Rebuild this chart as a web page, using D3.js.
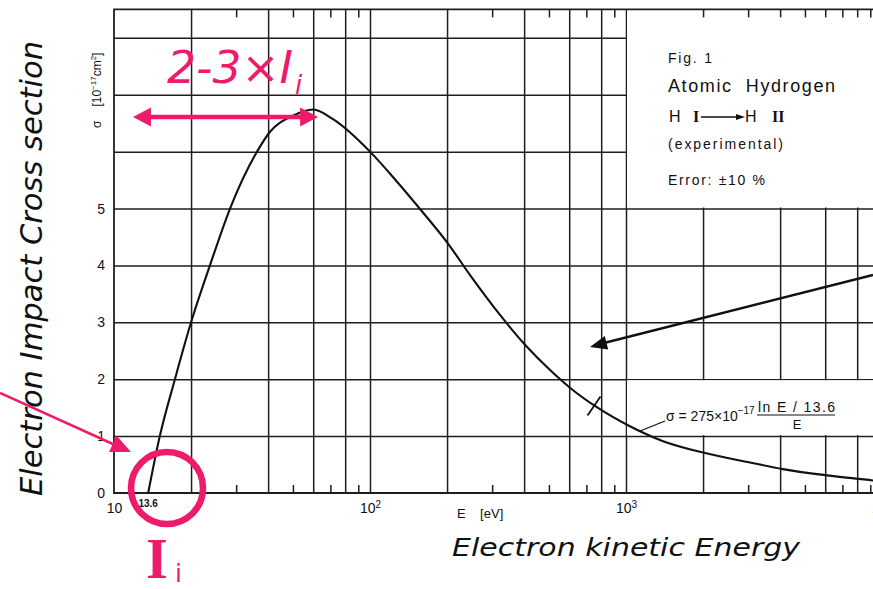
<!DOCTYPE html>
<html>
<head>
<meta charset="utf-8">
<script src="https://cdn.jsdelivr.net/npm/d3@7"></script>
<style>
  body { margin: 0; background: #fff; }
  svg text { font-family: "Liberation Sans", Arial, sans-serif; fill: #111; }
  .grid line { stroke: #1e1e1e; stroke-width: 1.5; }
  .grid path, .labels path { display: none; }
  .labels text { font-size: 14px; }
  .hand { font-family: "DejaVu Sans", sans-serif; font-style: italic; }
</style>
</head>
<body>
<div id="chart"></div>
<script>
// electron energy (eV) and ionisation cross section (10^-17 cm^2)
const energies = [13.6, 15.1, 17.3, 20, 23.7, 28.4, 36.2, 40.7, 50, 60, 71.7, 100, 127, 161, 202, 246, 322, 410, 505, 604, 780, 1018, 1396, 2000, 3050, 4100, 6100, 9200, 10000];
const sigmas = [0, 1, 2, 3, 4, 5, 6, 6.35, 6.63, 6.74, 6.57, 6.0, 5.48, 4.93, 4.38, 3.83, 3.13, 2.57, 2.16, 1.85, 1.49, 1.19, 0.91, 0.71, 0.536, 0.42, 0.31, 0.22, 0.2];

const gridEnergies = [20, 40, 60, 80, 100, 200, 400, 600, 800, 1000, 2000, 4000, 6000, 8000];
const minorEnergies = [30, 50, 70, 90, 300, 500, 700, 900, 3000, 5000, 7000, 9000];
const boxTopEnergies = [2000, 3000, 4000, 5000, 6000, 7000, 8000, 9000];
const decadeTicks = [10, 100, 1000, 10000];
const decadeExponents = ["", "2", "3", "4"];
const sigmaLabels = [0, 1, 2, 3, 4, 5];
const sigmaGrid = [1, 2, 3, 4, 5, 6, 7, 8];
const legendLines = ["Fig. 1", "Atomic  Hydrogen", "(experimental)", "Error: \u00b110 %"];

const pink = "#ee1b6c";

const svg = d3.select("#chart").append("svg")
  .attr("width", 873).attr("height", 589);

const x = d3.scaleLog().domain([10, 10000]).range([114, 882]);
const y = d3.scaleLinear().domain([0, 8.5]).range([493, 9.4]);
const pLeft = x(10), pRight = x(10000), pTop = y(8.5), pBottom = y(0);

// grid lines
svg.append("g").attr("class", "grid")
  .attr("transform", `translate(0,${pBottom})`)
  .call(d3.axisBottom(x).tickValues(gridEnergies).tickSize(-(pBottom - pTop)).tickFormat(""));
svg.append("g").attr("class", "grid")
  .attr("transform", `translate(${pLeft},0)`)
  .call(d3.axisLeft(y).tickValues(sigmaGrid).tickSize(-(pRight - pLeft)).tickFormat(""));

// short ticks at bottom and top
svg.append("g").attr("class", "grid")
  .attr("transform", `translate(0,${pBottom})`)
  .call(d3.axisBottom(x).tickValues(minorEnergies).tickSize(-8).tickFormat(""));
svg.append("g").attr("class", "grid")
  .attr("transform", `translate(0,${pTop})`)
  .call(d3.axisTop(x).tickValues(minorEnergies).tickSize(-8).tickFormat(""));

// blank boxes for legend and formula
svg.append("rect")
  .attr("x", x(1000) + 1).attr("y", pTop + 1)
  .attr("width", pRight - x(1000)).attr("height", y(5) - pTop - 2)
  .attr("fill", "#fff");
svg.append("rect")
  .attr("x", x(1000) + 1).attr("y", y(2) + 1)
  .attr("width", pRight - x(1000)).attr("height", y(1) - y(2) - 2)
  .attr("fill", "#fff");
svg.append("g").attr("class", "grid")
  .attr("transform", `translate(0,${pTop})`)
  .call(d3.axisTop(x).tickValues(boxTopEnergies).tickSize(-8).tickFormat(""));

// frame
svg.append("path")
  .attr("d", `M${pRight},${pTop}H${pLeft}V${pBottom}H${pRight}`)
  .attr("fill", "none").attr("stroke", "#1e1e1e").attr("stroke-width", 1.8);

// y labels
svg.append("g").attr("class", "labels")
  .attr("transform", `translate(${pLeft},0)`)
  .call(d3.axisLeft(y).tickValues(sigmaLabels).tickSize(0).tickPadding(9).tickFormat(d3.format("d")));

// x labels with exponents
const xl = svg.append("g").attr("class", "labels")
  .attr("transform", `translate(0,${pBottom})`)
  .call(d3.axisBottom(x).tickValues(decadeTicks).tickSize(0).tickPadding(10).tickFormat(() => "10"));
xl.selectAll("text").each(function (d, i) {
  if (decadeExponents[i]) {
    d3.select(this).append("tspan").attr("dy", "-0.45em").style("font-size", "10px").text(decadeExponents[i]);
  }
});

svg.append("text")
  .attr("x", x(13.6)).attr("y", pBottom + 14)
  .attr("text-anchor", "middle")
  .style("font-size", "10px").style("font-weight", "bold")
  .text("13.6");

svg.append("text")
  .attr("x", 457).attr("y", 518)
  .style("font-size", "13px")
  .style("white-space", "pre")
  .text("E    [eV]");

// sigma axis title
const st = svg.append("text")
  .attr("transform", `translate(101,128) rotate(-90)`)
  .style("font-size", "12px");
st.append("tspan").text("\u03c3");
st.append("tspan").attr("dx", 14).text("[10");
st.append("tspan").attr("dy", -5).style("font-size", "8px").text("\u221217");
st.append("tspan").attr("dy", 5).text("cm");
st.append("tspan").attr("dy", -5).style("font-size", "8px").text("2");
st.append("tspan").attr("dy", 5).text("]");

// curve
const line = d3.line()
  .x((d, i) => x(energies[i]))
  .y(d => y(d))
  .curve(d3.curveMonotoneX);
svg.append("path")
  .datum(sigmas)
  .attr("d", line)
  .attr("fill", "none").attr("stroke", "#111").attr("stroke-width", 2.1);

// fit marker crossing the curve
const mx = x(750), my = y(1.53);
svg.append("line")
  .attr("x1", mx - 6.5).attr("y1", my + 9.5).attr("x2", mx + 6.5).attr("y2", my - 9.5)
  .attr("stroke", "#111").attr("stroke-width", 1.8);

// legend block
const lg = svg.append("g").attr("transform", "translate(668,0)");
lg.append("text").attr("y", 63).style("font-size", "14px").attr("textLength", 44).text(legendLines[0]);
lg.append("text").attr("y", 92).style("font-size", "18px").style("white-space", "pre").attr("textLength", 167).text(legendLines[1]);
lg.append("text").attr("y", 149).style("font-size", "14px").attr("textLength", 115).text(legendLines[2]);
lg.append("text").attr("y", 185).style("font-size", "14px").style("white-space", "pre").attr("textLength", 97).text(legendLines[3]);
lg.append("text").attr("x", 1).attr("y", 122).style("font-size", "16px").text("H");
lg.append("text").attr("x", 25).attr("y", 122).style("font-size", "16px")
  .style("font-family", "Liberation Serif").style("font-weight", "bold").text("I");
lg.append("line").attr("x1", 33).attr("y1", 117).attr("x2", 70).attr("y2", 117)
  .attr("stroke", "#111").attr("stroke-width", 1.3);
lg.append("path").attr("d", "M77,117L68,114L68,120Z").attr("fill", "#111");
lg.append("text").attr("x", 77).attr("y", 122).style("font-size", "16px").text("H");
lg.append("text").attr("x", 104).attr("y", 122).style("font-size", "16px")
  .style("font-family", "Liberation Serif").style("font-weight", "bold").text("II");

// formula
const fx = x(1135), fy = y(1.09);
svg.append("line").attr("x1", fx).attr("y1", fy).attr("x2", 665).attr("y2", 421)
  .attr("stroke", "#111").attr("stroke-width", 1.3);
const ft = svg.append("text").attr("x", 666).attr("y", 421).style("font-size", "14px");
ft.append("tspan").text("\u03c3 = 275\u00d710");
ft.append("tspan").attr("dy", -7).style("font-size", "10px").text("\u221217");
svg.append("text").attr("x", 758).attr("y", 412).style("font-size", "14px").attr("textLength", 77).text("ln E / 13.6");
svg.append("line").attr("x1", 757).attr("y1", 415).attr("x2", 835).attr("y2", 415)
  .attr("stroke", "#111").attr("stroke-width", 1.2);
svg.append("text").attr("x", 797).attr("y", 429).attr("text-anchor", "middle").style("font-size", "13px").text("E");

// black arrow from the right
svg.append("line").attr("x1", 873).attr("y1", 275).attr("x2", 604).attr("y2", 343)
  .attr("stroke", "#111").attr("stroke-width", 2.4);
svg.append("path").attr("d", arrowHead(873, 275, 590, 347, 17, 7)).attr("fill", "#111");

// pink annotations
const py = y(6.61);
svg.append("line").attr("x1", x(11.86) + 15).attr("y1", py).attr("x2", x(62.7) - 15).attr("y2", py)
  .attr("stroke", pink).attr("stroke-width", 4.5);
svg.append("path").attr("d", arrowHead(x(62.7), py, x(11.86), py, 18, 9.5)).attr("fill", pink);
svg.append("path").attr("d", arrowHead(x(11.86), py, x(62.7), py, 18, 9.5)).attr("fill", pink);

svg.append("text").attr("class", "hand")
  .attr("x", 167).attr("y", 83).style("fill", pink)
  .style("font-size", "44px").attr("textLength", 126).attr("lengthAdjust", "spacingAndGlyphs")
  .text("2-3\u00d7I");
svg.append("text").attr("class", "hand")
  .attr("x", 295).attr("y", 94).style("fill", pink).style("font-size", "26px").text("i");

svg.append("circle").attr("cx", 167).attr("cy", 488).attr("r", 36)
  .attr("fill", "none").attr("stroke", pink).attr("stroke-width", 6.5);

svg.append("text").attr("x", 146).attr("y", 578).style("fill", pink)
  .style("font-family", "Liberation Serif").style("font-weight", "bold").style("font-size", "56px").text("I");
svg.append("text").attr("x", 175).attr("y", 582).style("fill", pink)
  .style("font-family", "DejaVu Sans").style("font-size", "25px").text("i");

svg.append("line").attr("x1", 0).attr("y1", 393).attr("x2", 115).attr("y2", 445)
  .attr("stroke", pink).attr("stroke-width", 2.5);
svg.append("path").attr("d", arrowHead(0, 393, 131, 452, 20, 9)).attr("fill", pink);

// hand-written axis titles
svg.append("text").attr("class", "hand")
  .attr("transform", "translate(42,496) rotate(-90)")
  .style("font-size", "31px").attr("textLength", 455).attr("lengthAdjust", "spacingAndGlyphs")
  .text("Electron Impact Cross section");
svg.append("text").attr("class", "hand")
  .attr("x", 452).attr("y", 556)
  .style("font-size", "25px").attr("textLength", 348).attr("lengthAdjust", "spacingAndGlyphs")
  .text("Electron kinetic Energy");

function arrowHead(x1, y1, x2, y2, len, half) {
  const dx = x2 - x1, dy = y2 - y1, n = Math.hypot(dx, dy);
  const ux = dx / n, uy = dy / n;
  const bx = x2 - ux * len, by = y2 - uy * len;
  return `M${x2},${y2}L${bx - uy * half},${by + ux * half}L${bx + uy * half},${by - ux * half}Z`;
}
</script>
</body>
</html>
